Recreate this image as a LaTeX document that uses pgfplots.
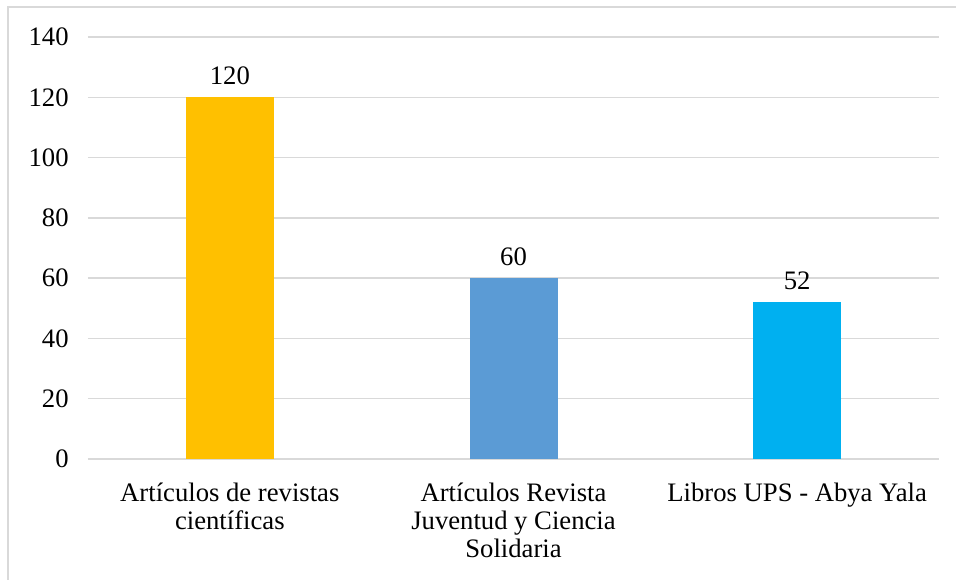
\documentclass[border=0pt]{standalone}
\usepackage{fontspec}
\setmainfont{Liberation Serif}
\usepackage{pgfplots}
\pgfplotsset{compat=1.18}
\definecolor{gridgray}{HTML}{D9D9D9}
\definecolor{barA}{HTML}{FFC000}
\definecolor{barB}{HTML}{5B9BD5}
\definecolor{barC}{HTML}{00B0F0}
\newcommand{\lbl}{\fontsize{20}{21}\selectfont}
\begin{document}
\begin{tikzpicture}
  % page = 956x579 px, 1px = 0.75pt; axis lower-left at (88,459) px
  \path[use as bounding box] (-66pt,-90pt) rectangle (651pt,344.25pt);
  \draw[gridgray, line width=1.2pt] (-60pt,-95pt) -- (-60pt,339pt) -- (660pt,339pt);
  \begin{axis}[
      at={(0pt,0pt)}, anchor=south west,
      scale only axis,
      width=638.25pt, height=316.5pt,
      xmin=-0.5, xmax=2.5,
      ymin=0, ymax=140,
      ytick distance=20,
      xtick={0,1,2},
      xticklabels={{Artículos de revistas\\científicas},
                   {Artículos Revista\\Juventud y Ciencia\\Solidaria},
                   {Libros UPS - Abya Yala}},
      xticklabel style={align=center, font=\lbl, yshift=-10pt, anchor=north},
      yticklabel style={font=\lbl, xshift=-11pt},
      /pgf/number format/assume math mode=true,
      ymajorgrids,
      grid style={gridgray, line width=1.1pt},
      axis line style={draw=none},
      major tick style={draw=none},
      ybar, bar width=66pt, bar shift=0pt,
      nodes near coords,
      every node near coord/.append style={font=\lbl, yshift=6pt},
      clip=false,
    ]
    \draw[gridgray, line width=1.1pt] (axis cs:-0.5,0) -- (axis cs:2.5,0);
    \addplot[fill=barA, draw=none] coordinates {(0,120)};
    \addplot[fill=barB, draw=none] coordinates {(1,60)};
    \addplot[fill=barC, draw=none] coordinates {(2,52)};
  \end{axis}
\end{tikzpicture}
\end{document}
